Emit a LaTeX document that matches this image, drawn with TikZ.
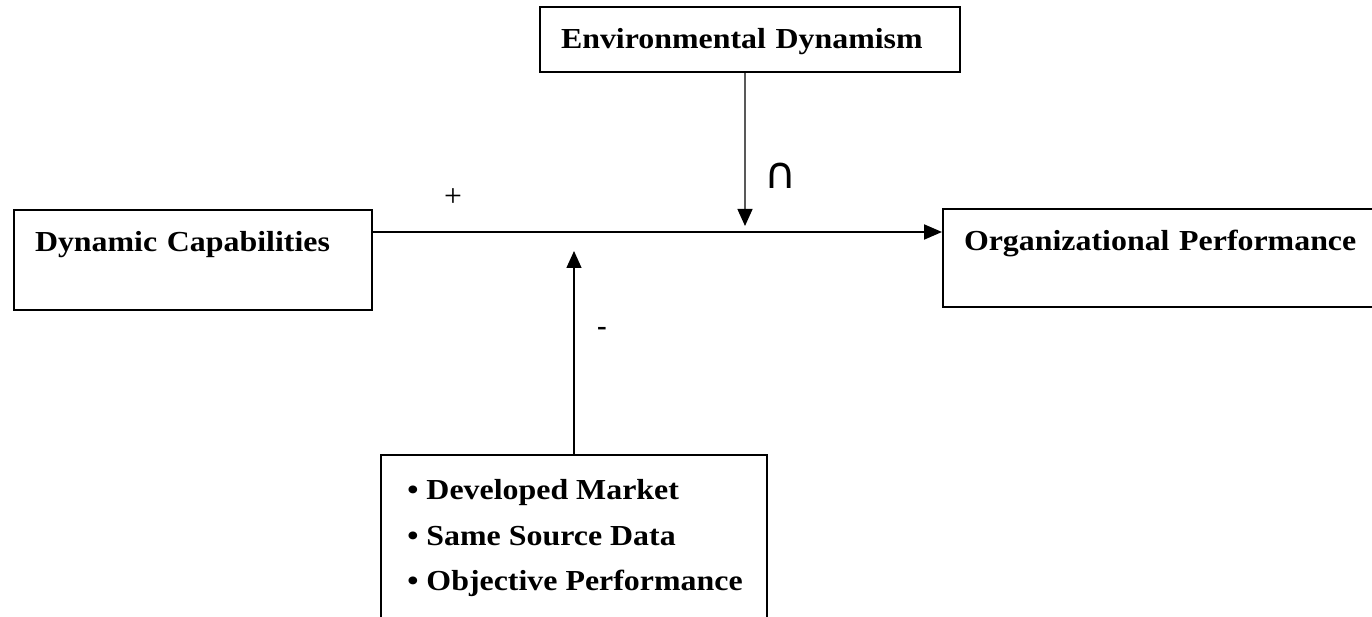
\documentclass[tikz,border=0pt]{standalone}
\usepackage{fontspec}
\setmainfont{Liberation Serif}
\newfontfamily\boxfont{Liberation Serif}[FakeStretch=1.1]
\newfontfamily\symfont{DejaVu Sans}
\usetikzlibrary{arrows.meta,positioning}

\begin{document}
\begin{tikzpicture}[
  box/.style={draw, line width=1.1pt, inner ysep=0pt, inner xsep=0.42cm,
    font=\boxfont\fontsize{16.5}{20}\selectfont\bfseries, align=left,
    text height=0.84cm},
  arr/.style={-{Triangle[length=0.36cm, width=0.3cm]}, line width=1.1pt},
  varr/.style={-{Triangle[length=0.34cm, width=0.3cm]}, line width=0.8pt},
  sign/.style={inner sep=0pt}]
\clip (0,0) rectangle (27.44,12.32);
% Top: moderator
\node[box, text width=7.56cm, text depth=0.46cm] (env) at (15.0,11.53) {Environmental Dynamism};
% Left and right
\node[box, text width=6.32cm, text depth=1.16cm] (dc) at (3.86,7.12) {Dynamic Capabilities};
\node[box, text width=8.66cm, text depth=1.12cm] (op) at (23.61,7.16) {Organizational Performance};
\draw[arr] ([yshift=0.56cm]dc.east) -- ([yshift=0.52cm]op.west);
\node[sign, font=\fontsize{18}{20}\selectfont] (pl) at (9.06,8.36) {+};
% Down arrow
\coordinate (dnend) at (14.9,7.8);
\draw[varr] ([xshift=-0.1cm]env.south) -- (dnend);
\node[sign, font=\symfont\fontsize{25}{27}\selectfont] (cp) at (15.62,8.8) {∩};
% Bottom: study characteristics
\node[draw, line width=1.1pt, minimum width=7.72cm, minimum height=4cm] (mk) at (11.48,1.22) {};
\node[anchor=north west, inner sep=0pt, align=left,
  font=\boxfont\fontsize{16.5}{26}\selectfont\bfseries] (mktxt)
  at ([xshift=0.54cm, yshift=-0.5cm]mk.north west)
  {• Developed Market\\• Same Source Data\\• Objective Performance};
\coordinate (upend) at (11.48,7.3);
\draw[varr] (mk.north) -- (upend);
\node[sign, font=\fontsize{16.5}{20}\selectfont\bfseries] (mn) at (12.04,5.70) {-};
\end{tikzpicture}
\end{document}
